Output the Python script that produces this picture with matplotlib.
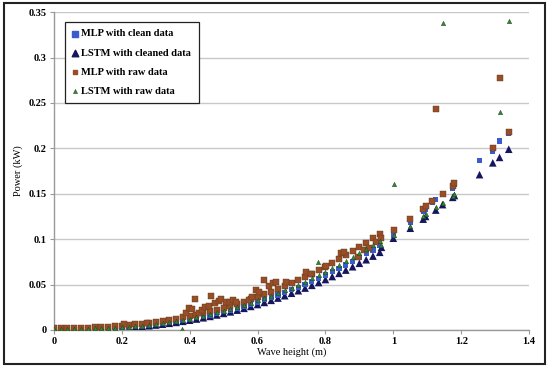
import matplotlib
matplotlib.use("Agg")
import matplotlib.pyplot as plt
from matplotlib.patches import Rectangle

# ---------------- data ----------------
dense_h = [0.00, 0.02, 0.04, 0.06, 0.08, 0.10, 0.12, 0.14, 0.16, 0.18,
           0.20, 0.22, 0.24, 0.26, 0.28, 0.30, 0.32, 0.34, 0.36, 0.38,
           0.40, 0.42, 0.44, 0.46, 0.48, 0.50, 0.52, 0.54, 0.56, 0.58,
           0.60, 0.62, 0.64, 0.66, 0.68, 0.70, 0.72, 0.74, 0.76, 0.78,
           0.80, 0.82, 0.84, 0.86, 0.88, 0.90, 0.92, 0.94, 0.96]

mlp_clean_p = [0.0000, 0.0001, 0.0001, 0.0002, 0.0003, 0.0005, 0.0007, 0.0010, 0.0014, 0.0018,
               0.0023, 0.0029, 0.0036, 0.0043, 0.0051, 0.0060, 0.0070, 0.0081, 0.0092, 0.0105,
               0.0118, 0.0133, 0.0148, 0.0164, 0.0182, 0.0200, 0.0219, 0.0240, 0.0261, 0.0284,
               0.0307, 0.0332, 0.0357, 0.0384, 0.0412, 0.0441, 0.0471, 0.0503, 0.0535, 0.0569,
               0.0604, 0.0640, 0.0677, 0.0716, 0.0756, 0.0796, 0.0838, 0.0881, 0.0926]
mlp_clean_tail_h = [1.0, 1.05, 1.088, 1.095, 1.115, 1.125, 1.145, 1.175, 1.18, 1.254, 1.293, 1.313, 1.34]
mlp_clean_tail_p = [0.104, 0.118, 0.130, 0.133, 0.140, 0.144, 0.150, 0.156, 0.160, 0.187, 0.197, 0.208, 0.216]

lstm_clean_p = [0.0000, 0.0000, 0.0001, 0.0002, 0.0003, 0.0004, 0.0006, 0.0009, 0.0012, 0.0016,
                0.0021, 0.0026, 0.0032, 0.0039, 0.0046, 0.0054, 0.0063, 0.0073, 0.0083, 0.0095,
                0.0107, 0.0120, 0.0134, 0.0149, 0.0165, 0.0182, 0.0199, 0.0218, 0.0238, 0.0259,
                0.0280, 0.0303, 0.0326, 0.0351, 0.0377, 0.0404, 0.0432, 0.0461, 0.0491, 0.0522,
                0.0555, 0.0588, 0.0623, 0.0659, 0.0696, 0.0734, 0.0773, 0.0813, 0.0855]
lstm_clean_tail_h = [0.965, 1.0, 1.05, 1.088, 1.095, 1.125, 1.145, 1.175, 1.18, 1.254, 1.293, 1.313, 1.34]
lstm_clean_tail_p = [0.091, 0.101, 0.112, 0.122, 0.125, 0.132, 0.138, 0.146, 0.148, 0.171, 0.184, 0.190, 0.199]

mlp_raw_p = [0.0020, 0.0021, 0.0021, 0.0022, 0.0024, 0.0026, 0.0028, 0.0031, 0.0036, 0.0040,
             0.0046, 0.0052, 0.0060, 0.0068, 0.0077, 0.0087, 0.0098, 0.0111, 0.0123, 0.0138,
             0.0152, 0.0169, 0.0186, 0.0204, 0.0224, 0.0244, 0.0265, 0.0289, 0.0312, 0.0338,
             0.0364, 0.0392, 0.0420, 0.0450, 0.0481, 0.0514, 0.0548, 0.0583, 0.0619, 0.0657,
             0.0696, 0.0737, 0.0778, 0.0822, 0.0867, 0.0912, 0.0959, 0.1007, 0.1057]
mlp_raw_extra_h = [0.207, 0.275, 0.388, 0.397, 0.406, 0.417, 0.427, 0.436, 0.444, 0.456,
                   0.464, 0.476, 0.485, 0.493, 0.506, 0.519, 0.529, 0.536, 0.575, 0.585,
                   0.595, 0.605, 0.62, 0.635, 0.645, 0.654, 0.683, 0.742, 0.757, 0.802,
                   0.846, 0.855, 0.896, 0.914, 0.929, 0.95, 0.965, 1.003, 1.05, 1.088,
                   1.095, 1.115, 1.125, 1.145, 1.175, 1.18, 1.293, 1.313, 1.34]
mlp_raw_extra_p = [0.007, 0.008, 0.019, 0.024, 0.023, 0.034, 0.019, 0.022, 0.025, 0.026,
                   0.037, 0.030, 0.032, 0.034, 0.031, 0.031, 0.033, 0.031, 0.033, 0.036,
                   0.044, 0.042, 0.055, 0.048, 0.052, 0.053, 0.053, 0.064, 0.062, 0.070,
                   0.085, 0.086, 0.080, 0.088, 0.090, 0.097, 0.101, 0.110, 0.122, 0.133,
                   0.136, 0.142, 0.243, 0.150, 0.158, 0.162, 0.200, 0.277, 0.218]

lstm_raw_p = [0.0010, 0.0010, 0.0011, 0.0012, 0.0013, 0.0015, 0.0017, 0.0019, 0.0022, 0.0026,
              0.0030, 0.0035, 0.0041, 0.0048, 0.0056, 0.0065, 0.0075, 0.0086, 0.0098, 0.0111,
              0.0125, 0.0140, 0.0157, 0.0174, 0.0193, 0.0212, 0.0232, 0.0254, 0.0277, 0.0301,
              0.0326, 0.0352, 0.0379, 0.0407, 0.0437, 0.0467, 0.0499, 0.0533, 0.0567, 0.0603,
              0.0640, 0.0678, 0.0718, 0.0759, 0.0801, 0.0844, 0.0888, 0.0934, 0.0981]
lstm_raw_extra_h = [0.378, 0.778, 0.965, 1.003, 1.003, 1.05, 1.088, 1.095, 1.125, 1.145,
                    1.145, 1.175, 1.18, 1.313, 1.34]
lstm_raw_extra_p = [0.001, 0.075, 0.093, 0.104, 0.161, 0.115, 0.125, 0.128, 0.135, 0.140,
                    0.338, 0.148, 0.150, 0.240, 0.340]

labels = ["MLP with clean data", "LSTM with cleaned data", "MLP with raw data", "LSTM with raw data"]
x_ticks = [0, 0.2, 0.4, 0.6, 0.8, 1.0, 1.2, 1.4]
x_tick_labels = ["0", "0.2", "0.4", "0.6", "0.8", "1", "1.2", "1.4"]
y_ticks = [0, 0.05, 0.1, 0.15, 0.2, 0.25, 0.3, 0.35]
y_tick_labels = ["0", "0.05", "0.1", "0.15", "0.2", "0.25", "0.3", "0.35"]

# ---------------- plot ----------------
plt.rcParams['font.family'] = ['Liberation Serif', 'DejaVu Serif']

fig = plt.figure(figsize=(5.5, 3.67), dpi=100)
ax = fig.add_axes([0.098, 0.101, 0.864, 0.866])

c_blue = '#3a5ccc'
c_navy = '#16165e'
c_brown = '#9a4e28'
c_green = '#2f8a2f'

ax.scatter(dense_h + lstm_clean_tail_h, lstm_clean_p + lstm_clean_tail_p, marker='^', s=30,
           color=c_navy, edgecolors='none', zorder=3)
ax.scatter(dense_h + mlp_clean_tail_h, mlp_clean_p + mlp_clean_tail_p, marker='s', s=14,
           color=c_blue, edgecolors='none', zorder=3)
ax.scatter(dense_h + mlp_raw_extra_h, mlp_raw_p + mlp_raw_extra_p, marker='s', s=14,
           color=c_brown, edgecolors='#5a3a1a', linewidths=0.3, zorder=4)
ax.scatter(dense_h + lstm_raw_extra_h, lstm_raw_p + lstm_raw_extra_p, marker='^', s=10,
           color=c_green, edgecolors='#1a3a1a', linewidths=0.3, zorder=5)

# legend proxies
h1 = ax.scatter([], [], marker='s', s=14, color=c_blue)
h2 = ax.scatter([], [], marker='^', s=22, color=c_navy)
h3 = ax.scatter([], [], marker='s', s=12, color=c_brown)
h4 = ax.scatter([], [], marker='^', s=9, color=c_green, edgecolors='#1a3a1a', linewidths=0.3)
leg = ax.legend([h1, h2, h3, h4], labels, loc='upper left', bbox_to_anchor=(0.012, 0.986),
                frameon=True, fancybox=False, edgecolor='#222222', framealpha=1,
                handlelength=0.6, handletextpad=0.3, labelspacing=0.95, borderpad=0.7,
                prop={'family': 'Liberation Serif', 'weight': 'bold', 'size': 7.5})
leg.get_frame().set_linewidth(0.9)

ax.set_xlim(0, 1.4)
ax.set_ylim(0, 0.35)
ax.set_xticks(x_ticks)
ax.set_xticklabels(x_tick_labels)
ax.set_yticks(y_ticks)
ax.set_yticklabels(y_tick_labels)
for lab in ax.get_xticklabels() + ax.get_yticklabels():
    lab.set_fontweight('bold')
    lab.set_fontsize(7.5)
ax.tick_params(axis='both', direction='out', length=3, width=0.8, color='#999999', pad=2)

ax.grid(axis='y', color='#c8c8c8', linewidth=1.0)
ax.set_axisbelow(True)
for s in ['top', 'right']:
    ax.spines[s].set_visible(False)
for s in ['left', 'bottom']:
    ax.spines[s].set_color('#999999')
    ax.spines[s].set_linewidth(1.0)

ax.set_xlabel('Wave height (m)', fontsize=7.5, labelpad=1)
ax.set_ylabel('Power (kW)', fontsize=7.5, labelpad=4)

# outer frame
fig.patches.append(Rectangle((0.008, 0.008), 0.983, 0.985, transform=fig.transFigure,
                             fill=False, edgecolor='#222222', linewidth=1.5))

fig.savefig('out.png', dpi=100)
